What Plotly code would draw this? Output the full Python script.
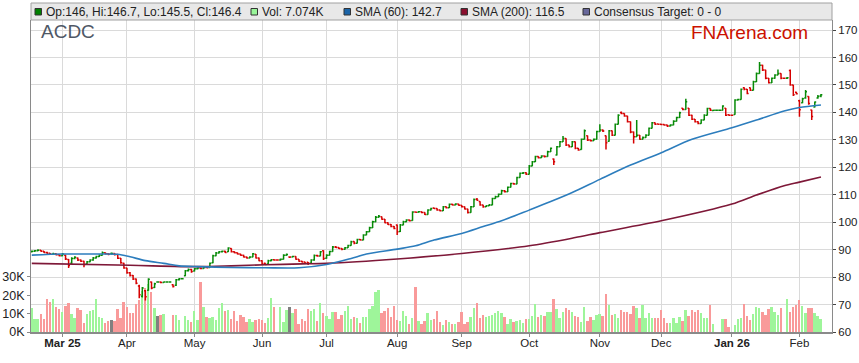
import pandas as pd
import plotly.graph_objects as go

# ---------------- data ----------------
dates = [d.strftime("%Y-%m-%d") for d in pd.bdate_range("2025-02-17", "2026-02-11")]

opens = [
    89.2, 89.4, 89.6, 89.8, 89.4, 89.0, 88.7, 88.3, 88.5, 88.1,
    87.8, 88.0, 86.4, 85.0, 86.8, 87.0, 86.2, 85.8, 84.8, 85.6,
    86.2, 87.0, 87.5, 88.0, 88.9, 88.5, 88.6, 88.6, 88.2, 86.9,
    85.0, 83.3, 81.6, 80.6, 79.3, 76.8, 73.0, 75.0, 75.2, 78.2,
    76.2, 78.2, 78.2, 78.0, 78.2, 78.2, 77.2, 77.0, 79.0, 79.4,
    80.5, 82.3, 82.8, 82.2, 83.0, 83.3, 83.1, 83.5, 83.5, 85.2,
    87.8, 88.8, 89.2, 89.4, 89.2, 90.4, 89.2, 88.9, 88.4, 88.0,
    87.3, 87.0, 87.3, 88.3, 87.0, 86.0, 85.0, 84.8, 86.0, 86.3,
    86.2, 86.2, 86.5, 88.0, 87.3, 87.3, 87.5, 86.5, 85.8, 85.5,
    85.4, 85.0, 86.2, 87.9, 87.7, 89.6, 86.9, 88.0, 89.3, 91.0,
    90.8, 90.4, 90.1, 90.7, 91.5, 93.0, 92.3, 93.7, 93.5, 95.3,
    96.5, 98.0, 100.2, 101.8, 102.0, 101.1, 99.8, 99.2, 98.4, 99.0,
    96.6, 99.0, 100.2, 100.8, 100.6, 103.7, 103.6, 103.8, 103.5, 102.8,
    104.4, 105.2, 105.0, 104.4, 104.2, 105.6, 105.3, 106.5, 106.3, 106.6,
    106.2, 105.6, 104.8, 103.5, 105.6, 108.4, 107.5, 106.3, 105.6, 106.0,
    106.3, 108.6, 109.3, 110.2, 111.5, 111.1, 112.7, 114.1, 113.9, 116.3,
    117.8, 118.0, 117.5, 120.5, 122.0, 123.9, 123.5, 124.1, 123.9, 125.7,
    123.0, 124.5, 127.5, 129.3, 130.5, 128.1, 127.5, 129.3, 126.9, 126.5,
    130.2, 131.5, 129.9, 129.7, 130.2, 133.0, 133.6, 131.5, 129.5, 133.3,
    131.7, 135.7, 140.0, 139.6, 138.7, 136.6, 132.9, 131.1, 131.7, 130.2,
    130.9, 131.7, 134.2, 136.2, 135.8, 135.7, 135.6, 135.4, 135.0, 135.4,
    136.8, 138.1, 141.5, 141.1, 141.5, 139.0, 137.5, 136.6, 136.0, 137.2,
    139.0, 141.4, 140.7, 140.8, 140.8, 140.8, 141.5, 139.1, 139.0, 139.2,
    144.5, 144.7, 149.0, 148.4, 149.0, 148.1, 151.2, 154.2, 157.2, 155.4,
    152.4, 150.8, 152.4, 153.6, 154.2, 152.4, 152.4, 155.3, 150.0, 147.3,
    144.2, 143.5, 145.2, 145.8, 140.9, 142.0, 145.2, 146.0,
]
highs = [
    89.7, 89.9, 90.1, 89.9, 89.5, 89.2, 88.8, 88.9, 88.6, 88.2,
    88.8, 88.1, 86.6, 87.2, 87.6, 87.1, 86.4, 86.0, 85.9, 86.5,
    87.3, 87.8, 88.3, 89.3, 89.0, 88.7, 89.0, 88.7, 88.3, 87.0,
    85.2, 83.4, 81.9, 80.8, 79.5, 77.2, 76.4, 75.3, 79.6, 78.4,
    77.9, 78.5, 78.4, 78.4, 78.2, 78.2, 77.4, 79.3, 79.7, 79.4,
    82.6, 83.1, 83.0, 83.3, 83.5, 83.5, 83.8, 83.7, 85.3, 88.1,
    89.1, 89.5, 89.7, 89.6, 90.9, 90.5, 89.4, 89.0, 88.5, 88.1,
    87.5, 87.6, 88.8, 88.4, 87.1, 86.1, 85.2, 86.3, 86.6, 86.5,
    86.2, 86.8, 88.3, 88.6, 87.6, 87.8, 87.6, 86.6, 86.0, 85.6,
    85.5, 86.5, 88.2, 88.1, 89.5, 89.8, 88.3, 89.6, 91.3, 91.3,
    90.9, 90.5, 91.0, 91.8, 93.2, 93.1, 94.0, 93.9, 95.6, 96.8,
    98.3, 100.5, 102.3, 102.6, 102.1, 101.2, 100.0, 99.3, 98.6, 99.2,
    99.3, 100.5, 101.1, 101.0, 104.0, 103.9, 104.1, 103.9, 103.6, 104.7,
    105.3, 105.4, 105.1, 104.5, 105.9, 105.7, 106.8, 106.7, 106.9, 106.7,
    106.3, 105.7, 104.9, 105.9, 108.6, 108.8, 107.6, 106.4, 106.2, 106.6,
    108.9, 109.6, 110.5, 111.8, 111.7, 113.0, 114.4, 114.3, 116.6, 118.1,
    118.3, 118.2, 120.8, 122.3, 124.2, 124.0, 124.4, 124.3, 126.0, 127.2,
    123.2, 127.8, 129.6, 131.4, 130.6, 128.2, 129.6, 129.4, 127.0, 130.5,
    133.8, 131.6, 130.0, 130.5, 133.3, 135.7, 133.8, 131.6, 133.6, 133.4,
    136.0, 139.3, 140.3, 139.7, 138.8, 136.7, 133.0, 137.2, 131.8, 131.2,
    132.0, 134.5, 136.5, 136.3, 136.0, 135.9, 135.7, 135.5, 135.7, 137.1,
    138.4, 140.2, 141.6, 145.0, 141.6, 139.1, 137.6, 136.8, 137.5, 139.3,
    141.7, 141.5, 141.0, 140.8, 140.8, 142.6, 141.6, 139.3, 139.0, 144.8,
    145.0, 148.7, 149.2, 148.5, 149.1, 151.5, 154.5, 158.4, 157.4, 155.5,
    152.5, 152.7, 153.9, 155.6, 154.3, 152.4, 152.9, 155.6, 150.1, 147.5,
    144.6, 145.3, 148.2, 145.9, 141.0, 144.0, 146.3, 146.7,
]
lows = [
    89.0, 89.2, 89.4, 89.2, 88.8, 88.5, 88.1, 88.2, 87.9, 87.5,
    87.6, 86.2, 83.3, 84.8, 86.5, 85.9, 85.5, 83.6, 84.6, 85.4,
    86.0, 86.8, 87.3, 87.9, 88.2, 88.0, 88.2, 87.9, 86.6, 84.9,
    83.0, 81.2, 80.2, 78.9, 77.4, 72.3, 72.6, 71.5, 75.0, 75.6,
    76.0, 77.9, 77.8, 77.9, 78.2, 78.2, 76.2, 76.8, 78.8, 79.4,
    80.3, 82.0, 81.6, 82.0, 82.8, 82.9, 83.0, 83.2, 83.4, 85.0,
    87.6, 88.6, 89.0, 88.8, 89.1, 89.0, 88.7, 88.2, 87.8, 87.1,
    86.8, 86.9, 87.2, 86.8, 85.8, 84.4, 84.4, 84.7, 85.8, 86.0,
    86.2, 86.0, 86.4, 87.8, 87.0, 87.2, 86.3, 85.6, 85.3, 84.8,
    84.4, 84.9, 86.0, 87.4, 87.6, 86.2, 86.7, 87.9, 89.2, 90.6,
    90.2, 89.8, 90.0, 90.6, 91.4, 92.0, 92.2, 93.3, 93.4, 95.2,
    96.4, 97.9, 100.0, 101.6, 100.9, 99.6, 99.0, 98.2, 97.4, 95.3,
    96.4, 98.9, 100.0, 100.3, 100.5, 103.4, 103.5, 103.3, 102.6, 102.7,
    104.3, 104.8, 104.2, 103.9, 104.1, 105.0, 105.2, 106.1, 106.2, 106.0,
    105.4, 104.6, 103.2, 103.4, 105.5, 107.8, 106.0, 105.3, 105.5, 105.9,
    106.2, 108.5, 109.2, 110.1, 110.8, 111.0, 112.6, 113.6, 113.8, 116.2,
    117.6, 117.2, 117.4, 120.4, 121.9, 123.2, 123.4, 123.6, 123.8, 125.6,
    120.8, 124.3, 127.4, 129.2, 127.8, 127.2, 127.4, 126.6, 126.0, 126.4,
    130.1, 129.6, 129.4, 129.6, 130.1, 132.9, 132.9, 126.5, 129.3, 131.4,
    131.6, 135.6, 139.3, 138.4, 136.3, 132.4, 128.7, 131.0, 130.0, 130.1,
    130.8, 131.6, 134.1, 135.4, 135.5, 135.3, 135.1, 134.7, 134.9, 135.3,
    136.7, 138.0, 140.8, 141.0, 138.7, 137.2, 136.3, 135.7, 135.9, 137.1,
    138.9, 140.5, 140.6, 140.8, 140.8, 140.7, 138.7, 138.8, 139.0, 139.1,
    144.3, 144.6, 148.1, 146.6, 147.8, 148.0, 151.1, 154.1, 155.1, 152.1,
    150.5, 150.7, 152.3, 153.5, 152.1, 152.4, 152.2, 149.7, 146.0, 146.5,
    138.4, 143.3, 145.0, 142.8, 137.2, 141.8, 145.0, 145.5,
]
closes = [
    89.4, 89.6, 89.8, 89.4, 89.0, 88.7, 88.3, 88.5, 88.1, 87.8,
    88.4, 86.6, 84.2, 86.8, 87.2, 86.2, 85.8, 84.6, 85.6, 86.2,
    87.0, 87.5, 88.0, 88.9, 88.5, 88.3, 88.6, 88.2, 86.9, 85.2,
    83.3, 81.6, 80.6, 79.3, 77.8, 73.6, 76.0, 72.8, 79.2, 76.0,
    77.6, 78.2, 78.0, 78.2, 78.2, 78.2, 76.6, 79.0, 79.4, 79.4,
    82.3, 82.8, 82.0, 83.0, 83.3, 83.1, 83.5, 83.4, 85.0, 87.8,
    88.8, 89.2, 89.4, 89.0, 90.6, 89.2, 88.9, 88.4, 88.0, 87.3,
    87.0, 87.3, 88.5, 87.0, 86.0, 84.8, 84.6, 86.0, 86.3, 86.2,
    86.2, 86.5, 88.0, 88.2, 87.3, 87.5, 86.5, 85.8, 85.5, 85.0,
    85.0, 86.2, 87.9, 87.7, 89.2, 86.8, 88.0, 89.3, 91.0, 90.8,
    90.4, 90.1, 90.7, 91.5, 92.9, 92.3, 93.7, 93.5, 95.3, 96.5,
    98.0, 100.2, 101.8, 102.2, 101.1, 99.8, 99.2, 98.4, 97.7, 96.5,
    99.0, 100.2, 100.8, 100.5, 103.7, 103.6, 103.8, 103.5, 102.8, 104.4,
    105.0, 105.0, 104.4, 104.2, 105.6, 105.3, 106.5, 106.3, 106.6, 106.2,
    105.6, 104.8, 103.5, 105.6, 108.3, 108.0, 106.3, 105.6, 106.0, 106.3,
    108.6, 109.3, 110.2, 111.5, 111.1, 112.7, 114.1, 113.9, 116.3, 117.8,
    118.0, 117.5, 120.5, 122.0, 123.9, 123.5, 124.1, 123.9, 125.7, 126.9,
    122.0, 127.5, 129.3, 130.5, 128.1, 127.5, 129.3, 126.9, 126.3, 130.2,
    133.3, 129.9, 129.7, 130.2, 133.0, 133.6, 133.2, 128.9, 133.3, 131.7,
    135.7, 139.0, 139.6, 138.7, 136.6, 132.9, 131.1, 131.7, 130.2, 130.9,
    131.7, 134.2, 136.2, 135.7, 135.7, 135.6, 135.4, 135.0, 135.4, 136.8,
    138.1, 139.9, 141.1, 143.9, 139.0, 137.5, 136.6, 136.0, 137.2, 139.0,
    141.4, 140.8, 140.8, 140.8, 140.8, 142.3, 139.0, 139.0, 139.0, 144.5,
    144.7, 148.4, 148.4, 146.9, 148.1, 151.2, 154.2, 157.2, 155.4, 152.4,
    150.8, 152.4, 153.6, 154.2, 152.4, 152.4, 152.6, 150.0, 146.4, 146.8,
    141.0, 145.0, 147.5, 143.2, 138.5, 143.8, 145.8, 146.4,
]
volumes_k = [
    12.8, 6.9, 6.9, 9.8, 6.9, 17.9, 16.5, 17.9, 13.4, 12.3,
    11.0, 14.1, 15.6, 9.8, 7.4, 12.8, 11.9, 5.1, 9.6, 11.6,
    11.9, 17.9, 8.3, 7.4, 4.7, 6.1, 6.5, 6.1, 12.3, 7.4,
    16.5, 13.4, 10.5, 10.5, 15.2, 17.4, 22.4, 23.7, 25.9, 21.9,
    13.2, 8.7, 9.2, 9.8, 0, 0, 9.0, 9.0, 6.5, 0,
    8.7, 6.5, 5.4, 11.6, 6.5, 27.3, 13.4, 8.0, 7.4, 8.3,
    6.5, 13.2, 15.9, 11.4, 11.9, 6.9, 11.4, 6.1, 9.2, 8.3,
    5.6, 6.9, 5.6, 6.5, 6.9, 6.5, 5.1, 7.4, 18.3, 13.4,
    0, 13.4, 5.6, 11.9, 13.4, 10.5, 12.5, 4.3, 7.0, 6.0,
    12.3, 11.4, 12.3, 6.1, 15.7, 10.1, 8.7, 7.1, 10.8, 10.8,
    7.1, 9.2, 11.4, 14.3, 7.1, 8.0, 7.4, 5.1, 8.0, 8.0,
    12.3, 14.3, 21.5, 22.6, 10.1, 11.4, 12.8, 8.0, 14.3, 6.5,
    6.1, 11.4, 8.5, 4.3, 7.4, 24.4, 6.1, 4.3, 6.1, 10.5,
    6.5, 7.1, 11.4, 5.6, 3.6, 6.5, 5.6, 4.3, 4.2, 5.6,
    10.8, 4.3, 5.6, 8.0, 12.8, 15.6, 7.4, 9.2, 8.0, 8.5,
    9.2, 10.1, 11.4, 10.1, 8.0, 4.3, 7.1, 5.6, 6.1, 6.5,
    5.1, 7.1, 7.1, 8.7, 15.2, 8.0, 9.2, 8.7, 10.7, 10.7,
    17.7, 12.3, 7.4, 10.7, 12.8, 11.9, 11.0, 8.7, 8.3, 5.6,
    13.7, 6.1, 8.3, 6.5, 9.2, 9.6, 8.7, 20.6, 14.6, 9.2,
    9.6, 7.4, 11.9, 10.7, 11.0, 9.6, 14.1, 13.2, 7.4, 14.6,
    7.8, 10.1, 7.4, 7.8, 7.8, 11.9, 7.4, 5.1, 4.7, 7.8,
    4.7, 8.3, 6.1, 11.9, 8.7, 11.9, 11.0, 11.9, 10.1, 7.4,
    7.4, 14.6, 4.3, 0, 0, 6.9, 6.9, 2.9, 0, 3.8,
    6.9, 7.4, 15.2, 8.9, 6.5, 9.8, 13.7, 12.8, 11.0, 9.2,
    12.3, 13.4, 11.0, 9.2, 12.8, 0, 17.7, 10.8, 13.7, 14.8,
    17.4, 14.3, 10.1, 12.8, 13.2, 10.5, 8.9, 7.074,
]

# moving averages (trading-day index -> value)
sma60_days = [0, 10, 21, 28, 32, 37, 43, 48, 54, 65, 76, 87, 96, 104, 109, 119, 125,
              131, 140, 147, 153, 162, 169, 176, 185, 195, 205, 215, 228, 236, 245, 250, 257]
sma60_vals = [88.0, 88.4, 88.4, 88.3, 87.4, 86.0, 85.0, 84.1, 83.8, 83.5, 83.4, 83.4, 84.6,
              86.8, 88.4, 90.2, 91.4, 93.5, 95.9, 98.4, 100.5, 104.4, 107.5, 110.8, 115.6,
              120.8, 125.3, 130.2, 134.4, 137.2, 140.5, 141.8, 142.7]
sma200_days = [0, 32, 54, 65, 76, 88, 96, 119, 140, 162, 177, 185, 205, 228, 236, 245, 250, 257]
sma200_vals = [85.0, 84.3, 83.8, 84.1, 84.5, 84.8, 85.0, 86.6, 88.6, 91.4, 94.4, 96.2,
               100.5, 106.6, 109.9, 113.3, 114.6, 116.5]

tick_dates = ["2025-03-03", "2025-04-01", "2025-05-01", "2025-06-02", "2025-07-01",
              "2025-08-01", "2025-09-01", "2025-10-01", "2025-11-03", "2025-12-01",
              "2026-01-01", "2026-02-02"]
tick_labels = ["<b>Mar 25</b>", "Apr", "May", "Jun", "Jul", "Aug", "Sep", "Oct",
               "Nov", "Dec", "<b>Jan 26</b>", "Feb"]

price_ticks = [60, 70, 80, 90, 100, 110, 120, 130, 140, 150, 160, 170]
vol_ticks = [0, 10000, 20000, 30000]
vol_tick_labels = ["0K", "10K", "20K", "30K"]

legend_items = [
    ("Op:146, Hi:146.7, Lo:145.5, Cl:146.4", "#008000"),
    ("Vol: 7.074K", "#99f599"),
    ("SMA (60): 142.7", "#1a64a8"),
    ("SMA (200): 116.5", "#8a0f2e"),
    ("Consensus Target: 0 - 0", "#67679a"),
]

# ---------------- styling ----------------
FONT = "Liberation Sans, Arial, sans-serif"
UP, DN = "#078a07", "#d60000"
VUP, VDN, VFLAT = "#9ef59a", "#f99a9a", "#808080"
GRID = "#dadada"
AXIS = "#8a8a8a"

W, H = 859, 363
L, R, T, B = 31, 27, 20, 31
PW, PH = W - L - R, H - T - B


def px_x(x):
    return (x - L) / PW


def px_y(y):
    return (H - B - y) / PH


xs = list(range(len(dates)))
tick_pos = [dates.index(d) for d in tick_dates]
vol_colors = [VUP if c > o else (VDN if c < o else VFLAT) for o, c in zip(opens, closes)]

fig = go.Figure()
fig.add_trace(go.Bar(x=xs, y=[v * 1000 for v in volumes_k], marker=dict(color=vol_colors, line_width=0),
                     width=0.62, yaxis="y", hoverinfo="skip"))
fig.add_trace(go.Ohlc(x=xs, open=opens, high=highs, low=lows, close=closes, yaxis="y2",
                      increasing=dict(line=dict(color=UP, width=1.5)),
                      decreasing=dict(line=dict(color=DN, width=1.5)),
                      tickwidth=0.45, hoverinfo="skip"))
fig.add_trace(go.Scatter(x=sma200_days, y=sma200_vals, yaxis="y2", mode="lines",
                         line=dict(color="#7e1838", width=1.6, shape="spline", smoothing=0.8),
                         hoverinfo="skip"))
fig.add_trace(go.Scatter(x=sma60_days, y=sma60_vals, yaxis="y2", mode="lines",
                         line=dict(color="#2c7dbd", width=1.6, shape="spline", smoothing=0.8),
                         hoverinfo="skip"))

shapes = [dict(type="rect", xref="paper", yref="paper", x0=0, x1=1, y0=px_y(20), y1=px_y(3),
               fillcolor="#e8e8e8", line=dict(color="#a0a0a0", width=1), layer="above")]
annotations = []
sq_x = [35, 251, 344, 461, 583]
for (label, col), sx in zip(legend_items, sq_x):
    shapes.append(dict(type="rect", xref="paper", yref="paper", x0=px_x(sx), x1=px_x(sx + 6.5),
                       y0=px_y(15), y1=px_y(8.5), fillcolor=col,
                       line=dict(color="#333333", width=1), layer="above"))
    annotations.append(dict(text=label, xref="paper", yref="paper", x=px_x(sx + 8.5), y=px_y(11.8),
                            xanchor="left", yanchor="middle", showarrow=False,
                            font=dict(family=FONT, size=12, color="#222222")))

annotations.append(dict(text="ACDC", xref="paper", yref="paper", x=px_x(39), y=px_y(31.5),
                        xanchor="left", yanchor="middle", showarrow=False,
                        font=dict(family=FONT, size=19, color="#4f5866")))
annotations.append(dict(text="FNArena.com", xref="paper", yref="paper", x=px_x(810), y=px_y(33),
                        xanchor="right", yanchor="middle", showarrow=False,
                        font=dict(family=FONT, size=19, color="#cc1100")))

fig.update_layout(
    width=W, height=H, autosize=False,
    margin=dict(l=L, r=R, t=T, b=B, pad=0, autoexpand=False),
    paper_bgcolor="white", plot_bgcolor="white",
    showlegend=False, hovermode=False, dragmode=False,
    font=dict(family=FONT, size=11, color="#222222"),
    bargap=0,
    xaxis=dict(range=[-0.25, 260.6], tickmode="array", tickvals=tick_pos, ticktext=tick_labels,
               showgrid=True, gridcolor=GRID, gridwidth=1, zeroline=False, automargin=False,
               showline=True, linecolor=AXIS, linewidth=1.5, ticks="outside", ticklen=3,
               tickcolor=AXIS, tickfont=dict(family=FONT, size=11.5, color="#222222"),
               ticklabelstandoff=-4,
               rangeslider=dict(visible=False), fixedrange=True),
    yaxis=dict(range=[0, 169300], side="left", tickmode="array", tickvals=vol_ticks,
               ticktext=vol_tick_labels, showgrid=False, zeroline=False, automargin=False,
               showline=True, linecolor=AXIS, linewidth=1, ticks="outside", ticklen=3,
               tickcolor=AXIS, tickfont=dict(family=FONT, size=12.5, color="#222222"),
               fixedrange=True),
    yaxis2=dict(range=[60, 173.66], side="right", overlaying="y", tickmode="array",
                tickvals=price_ticks, showgrid=True, gridcolor=GRID, gridwidth=1,
                zeroline=False, showline=True, linecolor=AXIS, linewidth=1, automargin=False,
                ticks="outside", ticklen=3, tickcolor="#444444",
                tickfont=dict(family=FONT, size=11.5, color="#222222"), fixedrange=True),
    shapes=shapes,
    annotations=annotations,
)

fig.write_html("out.html", config={"displayModeBar": False},
               post_script="document.body.style.margin='0';document.body.style.overflow='hidden';")
